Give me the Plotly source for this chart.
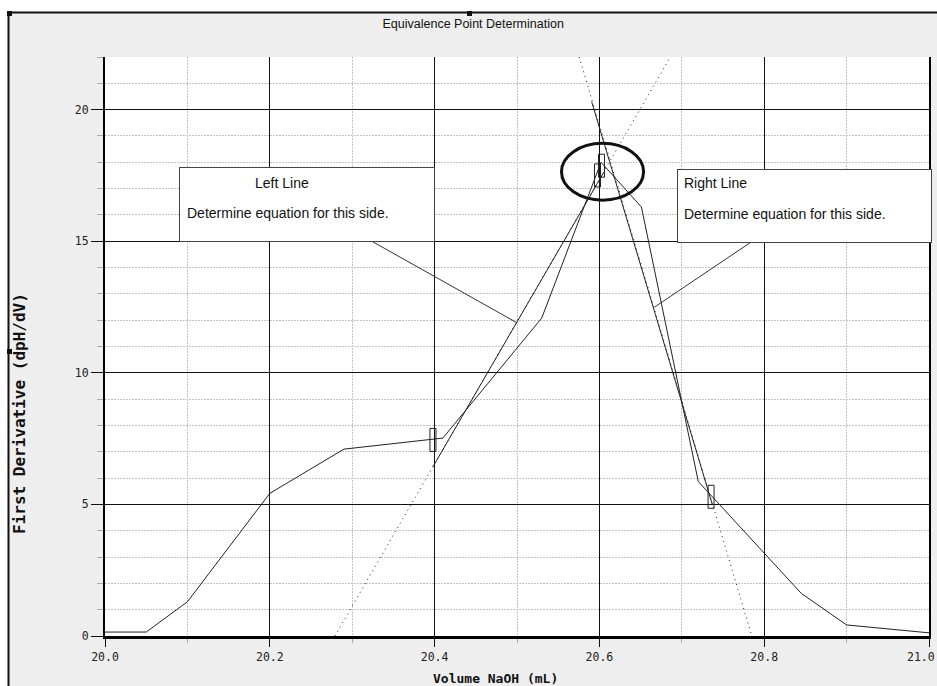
import plotly.graph_objects as go

# ---------------- data ----------------
volume = [20.0, 20.05, 20.1, 20.2, 20.29, 20.41, 20.53, 20.602, 20.651, 20.72, 20.845, 20.9, 21.0]
first_derivative = [0.15, 0.15, 1.3, 5.42, 7.1, 7.52, 12.08, 18.0, 16.3, 5.87, 1.62, 0.42, 0.12]

# fitted lines (solid over the fit range, dotted extension over the whole plot)
left_fit_x = [20.398, 20.605]
left_fit_y = [6.43, 17.6]
left_ext_x = [20.279, 20.686]
left_ext_y = [0.0, 22.0]

right_fit_x = [20.5906, 20.737]
right_fit_y = [20.3, 5.0]
right_ext_x = [20.5755, 20.785]
right_ext_y = [22.0, 0.0]

# range bracket markers
bracket_x = [20.398, 20.5977, 20.6025, 20.7355]
bracket_y = [7.45, 17.5, 17.87, 5.29]

# highlighted equivalence point ellipse (x0, x1) / (y0, y1)
ellipse_x = [20.554, 20.6536]
ellipse_y = [16.56, 18.72]

# callouts
left_callout_target = (20.5, 11.9)
right_callout_target = (20.667, 12.5)
left_callout_title = "Left Line"
right_callout_title = "Right Line"
callout_body = "Determine equation for this side."

x_tick_vals = [20.0, 20.2, 20.4, 20.6, 20.8, 21.0]
x_tick_text = ["20.0", "20.2", "20.4", "20.6", "20.8", "21.0"]
y_tick_vals = [0, 5, 10, 15, 20]
y_tick_text = ["0", "5", "10", "15", "20"]

title_text = "Equivalence Point Determination"
x_title = "Volume NaOH (mL)"
y_title = "First Derivative (dpH/dV)"

# ---------------- figure ----------------
W, H = 937, 686
L, R, T, B = 105, 8, 57, 50
PW, PH = W - L - R, H - T - B


def px(xp):
    return (xp - L) / PW


def py(yp):
    return (H - B - yp) / PH


LINE = "#222222"
fig = go.Figure()

fig.add_trace(go.Scatter(x=left_ext_x, y=left_ext_y, mode="lines",
                         line=dict(color=LINE, width=1, dash="1px,4px"),
                         hoverinfo="skip", showlegend=False))
fig.add_trace(go.Scatter(x=right_ext_x, y=right_ext_y, mode="lines",
                         line=dict(color=LINE, width=1, dash="1px,4px"),
                         hoverinfo="skip", showlegend=False))
fig.add_trace(go.Scatter(x=left_fit_x, y=left_fit_y, mode="lines",
                         line=dict(color=LINE, width=1), showlegend=False))
fig.add_trace(go.Scatter(x=right_fit_x, y=right_fit_y, mode="lines",
                         line=dict(color=LINE, width=1), showlegend=False))
fig.add_trace(go.Scatter(x=volume, y=first_derivative, mode="lines",
                         line=dict(color=LINE, width=1), showlegend=False))

shapes = []
# bracket markers (pixel-sized, anchored at data positions)
for bx, by in zip(bracket_x, bracket_y):
    shapes.append(dict(type="rect", xref="x", yref="y",
                       xsizemode="pixel", ysizemode="pixel",
                       xanchor=bx, yanchor=by, x0=-3, x1=3, y0=-11.5, y1=11.5,
                       line=dict(color=LINE, width=1), fillcolor="rgba(0,0,0,0)"))
# ellipse
shapes.append(dict(type="circle", xref="x", yref="y",
                   x0=ellipse_x[0], x1=ellipse_x[1], y0=ellipse_y[0], y1=ellipse_y[1],
                   line=dict(color="#111111", width=3)))
# outer window frame: white strips outside, black frame line
shapes.append(dict(type="rect", xref="paper", yref="paper", layer="below",
                   x0=px(-2), x1=px(W + 2), y0=py(12), y1=py(-2),
                   fillcolor="white", line=dict(width=0)))
shapes.append(dict(type="rect", xref="paper", yref="paper", layer="below",
                   x0=px(-2), x1=px(8), y0=py(H + 2), y1=py(-2),
                   fillcolor="white", line=dict(width=0)))
shapes.append(dict(type="line", xref="paper", yref="paper",
                   x0=px(8), x1=px(W + 2), y0=py(12.5), y1=py(12.5),
                   line=dict(color="#111111", width=2)))
shapes.append(dict(type="line", xref="paper", yref="paper",
                   x0=px(8.5), x1=px(8.5), y0=py(12), y1=py(H + 2),
                   line=dict(color="#111111", width=2)))
for hx, hy in [(8, 12), (468, 12), (8, 350)]:
    shapes.append(dict(type="rect", xref="paper", yref="paper",
                       x0=px(hx - 1), x1=px(hx + 4), y0=py(hy + 4), y1=py(hy - 1),
                       fillcolor="#111111", line=dict(width=0)))

sans = "Liberation Sans, Arial, sans-serif"
mono = "DejaVu Sans Mono, monospace"


def callout_box(target, ax, ay, w, h):
    # empty white box with a plain pointer line to the target
    return dict(x=target[0], y=target[1], xref="x", yref="y",
                text=" ", showarrow=True, arrowhead=0, arrowwidth=1,
                arrowcolor="#333333", ax=ax, ay=ay, standoff=0,
                width=w, height=h, bgcolor="white", bordercolor="#444444",
                borderwidth=1, borderpad=0, font=dict(size=12, family=sans))


def label(text, xp, yp, size=14, anchor="left"):
    return dict(x=px(xp), y=py(yp), xref="paper", yref="paper", text=text,
                showarrow=False, xanchor=anchor, yanchor="middle",
                font=dict(family=sans, size=size, color="#111111"))


# the last x tick label sits at the window edge: draw it right-aligned so it stays visible
x_tick_text_axis = x_tick_text[:-1] + [""]

annotations = [
    callout_box(left_callout_target, -210, -118, 254, 73),
    callout_box(right_callout_target, 150, -101, 253, 72),
    label(left_callout_title, 253, 183),
    label(callout_body, 185, 213),
    label(right_callout_title, 682, 183),
    label(callout_body, 682, 214),
    dict(x=x_tick_vals[-1], y=py(657), xref="x", yref="paper", text=x_tick_text[-1],
         showarrow=False, xanchor="right", yanchor="middle", xshift=8,
         font=dict(family=mono, size=11.5, color="#222222")),
    # axis titles
    dict(x=px(495), y=py(678), xref="paper", yref="paper", text=x_title,
         showarrow=False, xanchor="center", yanchor="middle",
         font=dict(family=mono, size=13, color="#111111", weight="bold")),
    dict(x=px(19), y=py(414), xref="paper", yref="paper", text=y_title,
         showarrow=False, xanchor="center", yanchor="middle", textangle=-90,
         font=dict(family=mono, size=16, color="#111111", weight="bold")),
]

fig.update_layout(
    width=W, height=H,
    margin=dict(l=L, r=R, t=T, b=B, autoexpand=False),
    paper_bgcolor="#eeeeee", plot_bgcolor="white",
    title=dict(text=title_text, x=0.505, xanchor="center", y=1 - 24 / H, yanchor="middle",
               font=dict(family=sans, size=12.5, color="#111111")),
    shapes=shapes, annotations=annotations,
    xaxis=dict(range=[20.0, 21.0], tickvals=x_tick_vals, ticktext=x_tick_text_axis,
               showgrid=True, gridcolor="#111111", gridwidth=1,
               showline=True, linecolor="#000000", linewidth=3,
               ticks="outside", ticklen=8, tickcolor="#111111", tickwidth=1,
               zeroline=False, automargin=False,
               tickfont=dict(family=mono, size=11.5, color="#222222"),
               minor=dict(dtick=0.1, tick0=20.0, showgrid=True, gridcolor="#c4c4c4",
                          griddash="2px,1px", gridwidth=1, ticks="outside", ticklen=4,
                          tickcolor="#aaaaaa")),
    yaxis=dict(range=[0, 22], tickvals=y_tick_vals, ticktext=y_tick_text,
               showgrid=True, gridcolor="#111111", gridwidth=1,
               showline=True, linecolor="#000000", linewidth=2, mirror=True,
               ticks="outside", ticklen=12, tickcolor="#111111", tickwidth=1,
               zeroline=False, automargin=False,
               tickfont=dict(family=mono, size=11.5, color="#222222"),
               minor=dict(dtick=1, tick0=0, showgrid=True, gridcolor="#c4c4c4",
                          griddash="2px,1px", gridwidth=1, ticks="outside", ticklen=6,
                          tickcolor="#aaaaaa")),
)

fig.write_html("out.html")
